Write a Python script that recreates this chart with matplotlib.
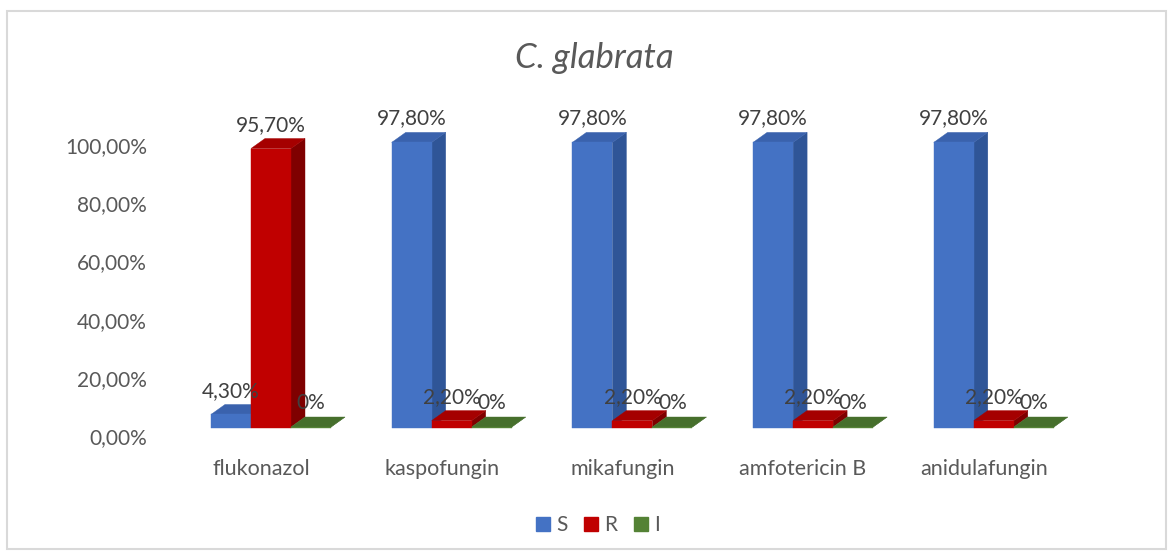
import matplotlib.pyplot as plt
from matplotlib.patches import Rectangle, Polygon, Patch
import numpy as np

# Data (percent)
drugs = ['flukonazol', 'kaspofungin', 'mikafungin', 'amfotericin B', 'anidulafungin']
series = ['S', 'R', 'I']
s_vals = [4.3, 97.8, 97.8, 97.8, 97.8]
r_vals = [95.7, 2.2, 2.2, 2.2, 2.2]
i_vals = [0.0, 0.0, 0.0, 0.0, 0.0]
s_labels = ['4,30%', '97,80%', '97,80%', '97,80%', '97,80%']
r_labels = ['95,70%', '2,20%', '2,20%', '2,20%', '2,20%']
i_labels = ['0%', '0%', '0%', '0%', '0%']
yticks = [0, 20, 40, 60, 80, 100]
ytick_labels = ['0,00%', '20,00%', '40,00%', '60,00%', '80,00%', '100,00%']

# face colours: front, side, top
colors = {
    'S': ('#4472C4', '#2F5597', '#3A62AD'),
    'R': ('#C00000', '#7F0000', '#A50000'),
    'I': ('#548235', '#3B5E25', '#466F2C'),
}
legend_colors = ['#4472C4', '#C00000', '#548235']

plt.rcParams['font.family'] = ['Lato', 'DejaVu Sans']

W, H = 1173, 556
fig = plt.figure(figsize=(W / 100, H / 100), dpi=100)

# axes placed in pixels
px_per_cat = 180.7
px_per_pct = 2.91
x0_px, y0_px = 261, 436
xlim = (-0.6, 4.6)
ylim = (-5, 110)
left = (x0_px + xlim[0] * px_per_cat) / W
right = (x0_px + xlim[1] * px_per_cat) / W
bottom = 1 - (y0_px - ylim[0] * px_per_pct) / H
top = 1 - (y0_px - ylim[1] * px_per_pct) / H
ax = fig.add_axes([left, bottom, right - left, top - bottom])
ax.set_xlim(*xlim)
ax.set_ylim(*ylim)

bar_w = 40 / px_per_cat
dx = 14 / px_per_cat
dy = 10 / px_per_pct
floor = 9 / px_per_pct
start = -50 / px_per_cat

z = 2
for i in range(len(drugs)):
    for k, (name, vals, labs) in enumerate(zip(series, [s_vals, r_vals, i_vals],
                                                [s_labels, r_labels, i_labels])):
        front, side, topc = colors[name]
        x = i + start + k * bar_w
        b = floor
        h = vals[i]
        ax.add_patch(Polygon([(x + bar_w, b), (x + bar_w + dx, b + dy),
                              (x + bar_w + dx, b + h + dy), (x + bar_w, b + h)],
                             closed=True, facecolor=side, edgecolor=side, lw=0.3, zorder=z))
        ax.add_patch(Polygon([(x, b + h), (x + dx, b + h + dy),
                              (x + bar_w + dx, b + h + dy), (x + bar_w, b + h)],
                             closed=True, facecolor=topc, edgecolor=topc, lw=0.3, zorder=z + 1))
        ax.add_patch(Rectangle((x, b - 0.3), bar_w, h + 0.3, facecolor=front,
                               edgecolor=front, lw=0.3, zorder=z + 2))
        z += 3
        ax.annotate(labs[i], (x + bar_w / 2, b + h + dy), xytext=(0, 10),
                    textcoords='offset points', ha='center', va='center',
                    fontsize=15, color='#404040', zorder=100)

ax.set_xticks(range(len(drugs)))
ax.set_xticklabels(drugs, fontsize=15.5, color='#595959')
ax.set_yticks(yticks)
ax.set_yticklabels(ytick_labels, fontsize=15, color='#595959')
ax.tick_params(axis='both', length=0)
ax.tick_params(axis='y', pad=4)
ax.tick_params(axis='x', pad=6)
for sp in ax.spines.values():
    sp.set_visible(False)
ax.patch.set_alpha(0)

fig.text(594 / W, 1 - 58 / H, 'C. glabrata', ha='center', va='center',
         fontsize=25, style='italic', color='#595959')

handles = [Patch(facecolor=c, edgecolor=c) for c in legend_colors]
fig.legend(handles, series, loc='center', bbox_to_anchor=(598 / W, 1 - 525 / H),
           ncol=3, frameon=False, fontsize=15, handlelength=0.68, handleheight=0.68,
           handletextpad=0.28, columnspacing=0.8, labelcolor='#595959')

# chart border
fig.patches.append(Rectangle((7 / W, 1 - 549 / H), 1159 / W, 538 / H,
                             transform=fig.transFigure, fill=False,
                             edgecolor='#D9D9D9', lw=1.5))

fig.savefig('out.png', dpi=100)
